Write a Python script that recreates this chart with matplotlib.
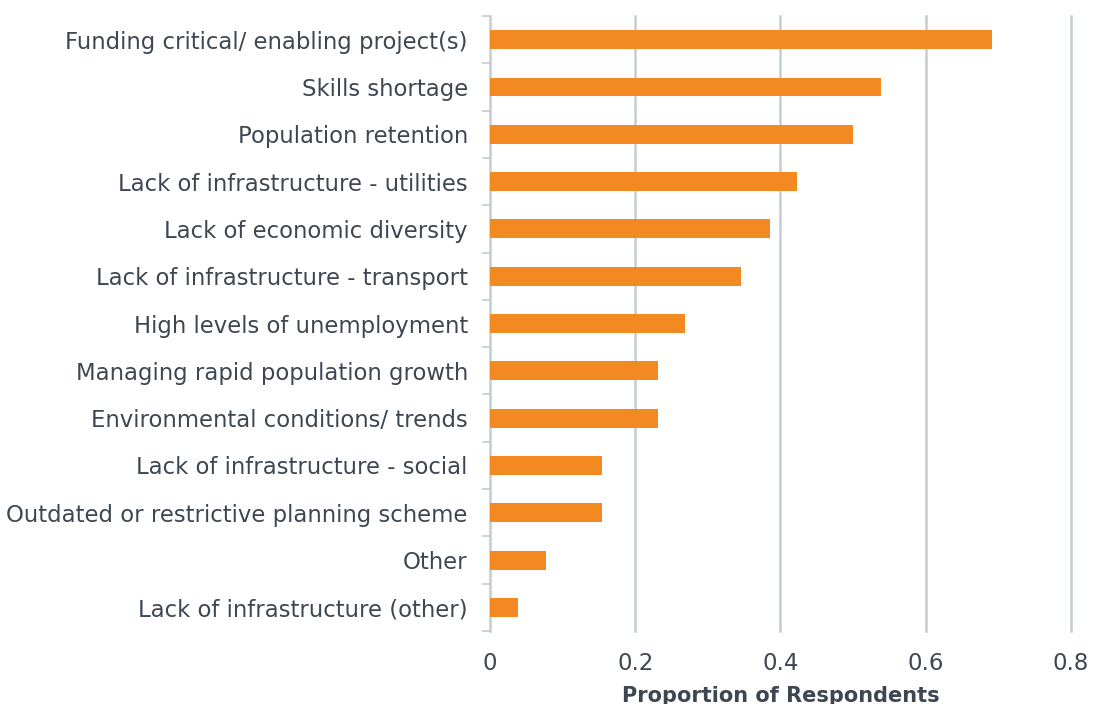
import matplotlib.pyplot as plt
import numpy as np

categories = [
    "Funding critical/ enabling project(s)",
    "Skills shortage",
    "Population retention",
    "Lack of infrastructure - utilities",
    "Lack of economic diversity",
    "Lack of infrastructure - transport",
    "High levels of unemployment",
    "Managing rapid population growth",
    "Environmental conditions/ trends",
    "Lack of infrastructure - social",
    "Outdated or restrictive planning scheme",
    "Other",
    "Lack of infrastructure (other)",
]
proportions = [0.692, 0.538, 0.500, 0.423, 0.385, 0.346, 0.269, 0.231, 0.231, 0.154, 0.154, 0.077, 0.038]
xticks = [0, 0.2, 0.4, 0.6, 0.8]
xtick_labels = ["0", "0.2", "0.4", "0.6", "0.8"]

orange = "#F28A21"
grid_col = "#C3CDD3"
text_col = "#3D4752"

plt.rcParams['font.family'] = ['DejaVu Sans']

fig = plt.figure(figsize=(10.97, 7.04), dpi=100)
ax = fig.add_axes([0.4467, 0.1037, 0.5295, 0.8735])

y = np.arange(len(categories))
ax.barh(y, proportions, height=0.4, color=orange, zorder=3)

ax.set_ylim(len(categories) - 0.5, -0.5)
ax.set_xlim(0, 0.8)
ax.set_xticks(xticks)
ax.set_xticklabels(xtick_labels, fontsize=16.5, color=text_col)
ax.set_yticks(y)
ax.set_yticklabels(categories, fontsize=16.4, color=text_col)
ax.set_yticks(np.arange(-0.5, len(categories), 1), minor=True)

ax.tick_params(axis='x', length=0, pad=15)
ax.tick_params(axis='y', which='major', length=0, pad=16)
ax.tick_params(axis='y', which='minor', length=6, width=1.2, color=grid_col)

for v in xticks[1:]:
    ax.axvline(v, color=grid_col, linewidth=1.8, zorder=1, clip_on=False)

for s in ['top', 'right', 'bottom']:
    ax.spines[s].set_visible(False)
ax.spines['left'].set_color(grid_col)
ax.spines['left'].set_linewidth(1.8)

ax.set_xlabel("Proportion of Respondents", fontsize=15, fontweight='bold', color=text_col, labelpad=8)

fig.savefig("out.png", dpi=100)
